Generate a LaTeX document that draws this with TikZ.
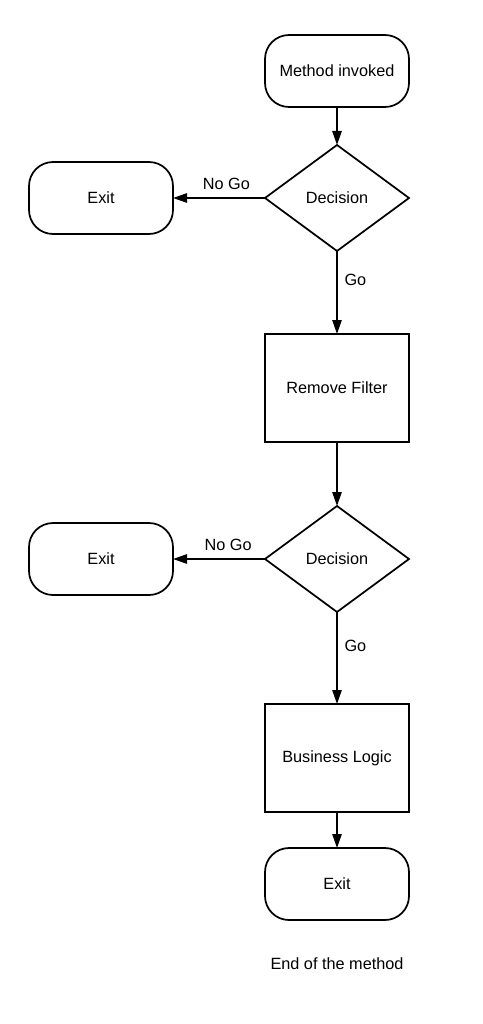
\documentclass[tikz,border=0pt]{standalone}
\usepackage{fontspec}
\setmainfont{Liberation Sans}
\usetikzlibrary{shapes.geometric,arrows.meta,positioning}

\begin{document}
\begin{tikzpicture}[
    node distance=28.5pt and 69pt,
    font=\fontsize{12.2}{14}\selectfont,
    terminal/.style={rectangle, draw, line width=1.3pt, rounded corners=18pt, minimum width=108pt, minimum height=54pt, outer sep=0pt},
    decision/.style={diamond, draw, line width=1.3pt, minimum width=108pt, minimum height=79.5pt, inner sep=0pt, aspect=1.36, outer sep=0pt},
    process/.style={rectangle, draw, line width=1.3pt, minimum width=108pt, minimum height=81pt, outer sep=0pt},
    arrow/.style={-{Triangle[length=10.5pt,width=7pt]}, line width=1.3pt},
    edgetext/.style={inner sep=2pt}
]
    \useasboundingbox (0,0) rectangle (361.5pt,-768pt);

    % Main column
    \node[terminal] (start) at (252.75pt,-53.25pt) {Method invoked};
    \node[decision, below=of start] (dec1) {Decision};
    \node[process, below=62.25pt of dec1] (filter) {Remove Filter};
    \node[decision, below=48pt of filter] (dec2) {Decision};
    \node[process, below=69pt of dec2] (logic) {Business Logic};
    \node[terminal, below=27pt of logic] (exit3) {Exit};
    \node[below=25pt of exit3] (endtext) {End of the method};

    % Side exits
    \node[terminal, left=of dec1] (exit1) {Exit};
    \node[terminal, left=of dec2] (exit2) {Exit};

    % Arrows
    \draw[arrow] (start) -- (dec1);
    \draw[arrow] (dec1) -- node[edgetext, right=3pt, pos=0.35] {Go} (filter);
    \draw[arrow] (dec1) -- node[edgetext, above=3.5pt, pos=0.42] {No Go} (exit1);
    \draw[arrow] (filter) -- (dec2);
    \draw[arrow] (dec2) -- node[edgetext, right=3pt, pos=0.37] {Go} (logic);
    \draw[arrow] (dec2) -- node[edgetext, above=3.5pt, pos=0.40] {No Go} (exit2);
    \draw[arrow] (logic) -- (exit3);

\end{tikzpicture}
\end{document}
